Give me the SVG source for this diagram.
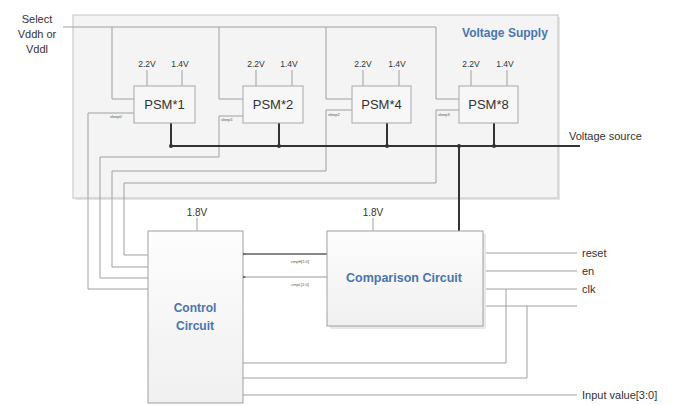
<svg xmlns="http://www.w3.org/2000/svg" width="681" height="405" viewBox="0 0 681 405">
<defs>
<style>
.t{font-family:"Liberation Sans",Arial,sans-serif;fill:#333}
.b{font-family:"Liberation Sans",Arial,sans-serif;font-weight:bold;fill:#4a74b4}
.w{fill:none;stroke:#a0a0a0;stroke-width:1}
.p{fill:none;stroke:#333;stroke-width:2}
.box{fill:#f7f7f7;stroke:#a8a8a8;stroke-width:1}
.s{font-family:"Liberation Sans",Arial,sans-serif;font-size:4px;fill:#555}
</style>
<linearGradient id="g" x1="0" y1="0" x2="0" y2="1">
<stop offset="0" stop-color="#fdfdfd"/><stop offset="1" stop-color="#f0f0f0"/>
</linearGradient>
<marker id="ah" markerWidth="6" markerHeight="6" refX="1" refY="3" orient="auto" markerUnits="userSpaceOnUse">
<path d="M6,0 L0,3 L6,6 Z" fill="#444"/>
</marker>
</defs>
<rect width="681" height="405" fill="#fff"/>

<g id="voltage-supply">
<rect x="75" y="17" width="485" height="183" fill="#e6e6e6"/>
<rect x="73" y="15" width="485" height="183" fill="#f4f4f4" stroke="#c4c4c4"/>
<text class="b" x="505" y="37" font-size="12" text-anchor="middle">Voltage Supply</text>
</g>

<g id="select-label">
<text class="t" x="37" y="23" font-size="11" text-anchor="middle">Select</text>
<text class="t" x="37" y="38" font-size="11" text-anchor="middle">Vddh or</text>
<text class="t" x="37" y="53" font-size="11" text-anchor="middle">Vddl</text>
</g>

<g id="connectors">
<path class="w" d="M63,27 H436"/>
<path class="w" d="M112,27 V99 H134"/>
<path class="w" d="M219,27 V99 H243"/>
<path class="w" d="M326,27 V99 H352"/>
<path class="w" d="M436,27 V99 H459"/>
<path class="w" d="M148,289 H88 V113 H134"/>
<path class="w" d="M148,278 H100 V157 H219 V116 H243"/>
<path class="w" d="M148,267 H112 V171 H326 V110 H352"/>
<path class="w" d="M148,255 H124 V183 H436 V110 H459"/>
<path class="p" d="M171,123 V146 M279,123 V146 M387,123 V146 M494,123 V146 M171,146 H580 M459,146 V231"/>
<circle cx="171" cy="146" r="2" fill="#333"/>
<circle cx="279" cy="146" r="2" fill="#333"/>
<circle cx="387" cy="146" r="2" fill="#333"/>
<circle cx="459" cy="146" r="2" fill="#333"/>
<circle cx="494" cy="146" r="2" fill="#333"/>
<path class="w" d="M147,70 V86 M182,70 V86 M256,70 V86 M292,70 V86 M363,70 V86 M399,70 V86 M471,70 V86 M507,70 V86"/>
<path class="w" d="M197,218 V231 M373,218 V231"/>
<path d="M327,254 H245" fill="none" stroke="#888" stroke-width="2" marker-end="url(#ah)"/>
<path d="M327,277 H245" fill="none" stroke="#999" stroke-width="1" marker-end="url(#ah)"/>
<path class="w" d="M483,253 H577 M483,271 H577 M483,289 H577 M483,306 H577"/>
<path class="w" d="M243,363 H506 V289"/>
<path class="w" d="M243,378 H527 V306"/>
<path class="w" d="M243,395 H577"/>
</g>

<g id="labels">
<text class="s" x="110" y="118">sleep0</text>
<text class="s" x="221" y="121">sleep1</text>
<text class="s" x="328" y="116">sleep2</text>
<text class="s" x="438" y="116">sleep3</text>
<text class="t" x="569" y="140" font-size="11">Voltage source</text>
<text class="t" x="582" y="257" font-size="11">reset</text>
<text class="t" x="582" y="275" font-size="11">en</text>
<text class="t" x="582" y="293" font-size="11">clk</text>
<text class="t" x="582" y="399" font-size="11">Input value[3:0]</text>
<text class="s" x="300" y="263" text-anchor="middle">cmpH[1:0]</text>
<text class="s" x="300" y="286" text-anchor="middle">cmpL[1:0]</text>
<text class="t" x="197" y="216" font-size="10" text-anchor="middle">1.8V</text>
<text class="t" x="373" y="216" font-size="10" text-anchor="middle">1.8V</text>
</g>

<g id="psm1">
<rect class="box" x="134" y="86" width="61" height="37"/>
<text class="t" x="164.5" y="109" font-size="13" text-anchor="middle">PSM*1</text>
<text class="t" x="147" y="67" font-size="8.5" text-anchor="middle">2.2V</text>
<text class="t" x="180" y="67" font-size="8.5" text-anchor="middle">1.4V</text>
</g>
<g id="psm2">
<rect class="box" x="243" y="86" width="60" height="37"/>
<text class="t" x="273" y="109" font-size="13" text-anchor="middle">PSM*2</text>
<text class="t" x="256" y="67" font-size="8.5" text-anchor="middle">2.2V</text>
<text class="t" x="289" y="67" font-size="8.5" text-anchor="middle">1.4V</text>
</g>
<g id="psm4">
<rect class="box" x="352" y="86" width="59" height="37"/>
<text class="t" x="381.5" y="109" font-size="13" text-anchor="middle">PSM*4</text>
<text class="t" x="363" y="67" font-size="8.5" text-anchor="middle">2.2V</text>
<text class="t" x="397" y="67" font-size="8.5" text-anchor="middle">1.4V</text>
</g>
<g id="psm8">
<rect class="box" x="459" y="86" width="59" height="37"/>
<text class="t" x="488.5" y="109" font-size="13" text-anchor="middle">PSM*8</text>
<text class="t" x="471" y="67" font-size="8.5" text-anchor="middle">2.2V</text>
<text class="t" x="505" y="67" font-size="8.5" text-anchor="middle">1.4V</text>
</g>

<g id="control-circuit">
<rect x="148" y="231" width="95" height="172" fill="url(#g)" stroke="#a0a0a0"/>
<text class="b" x="195" y="312" font-size="12" text-anchor="middle">Control</text>
<text class="b" x="195" y="330" font-size="12" text-anchor="middle">Circuit</text>
</g>

<g id="comparison-circuit">
<rect x="330" y="234" width="156" height="95" fill="#e8e8e8"/>
<rect x="327" y="231" width="156" height="95" fill="url(#g)" stroke="#a0a0a0"/>
<text class="b" x="404" y="282" font-size="12.5" text-anchor="middle">Comparison Circuit</text>
</g>
</svg>
